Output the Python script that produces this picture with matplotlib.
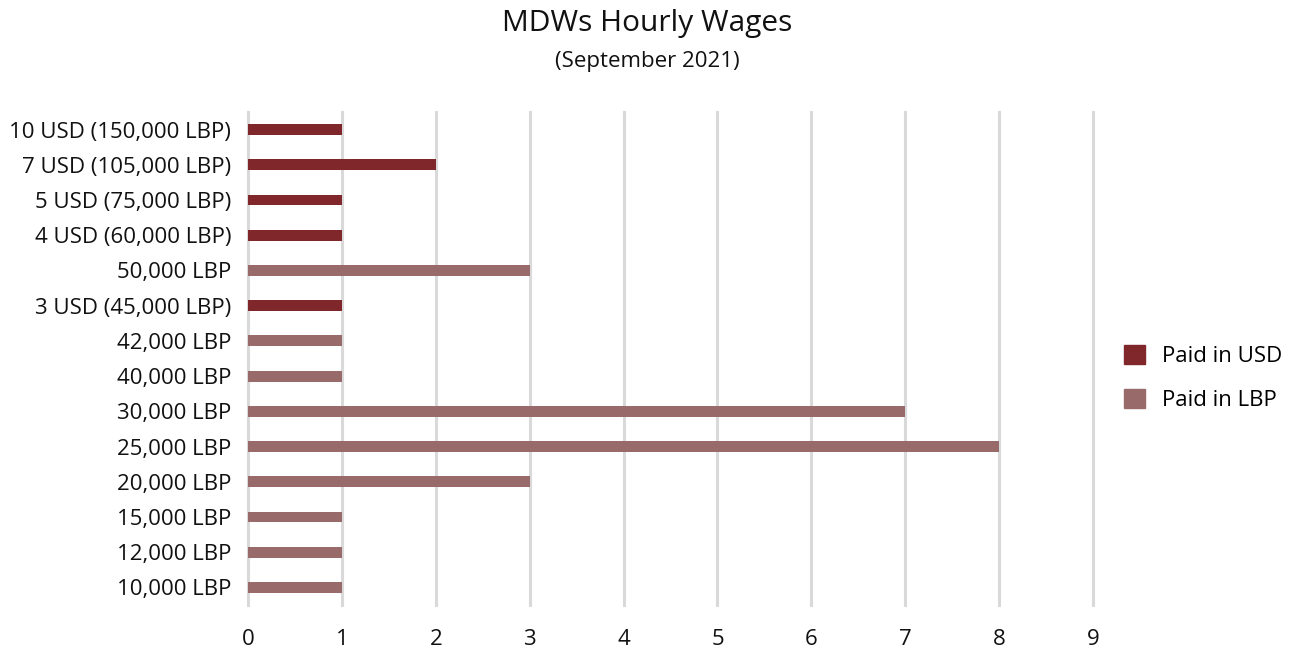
import matplotlib
matplotlib.use("Agg")
import matplotlib.pyplot as plt
from matplotlib.patches import Patch

plt.rcParams['font.family'] = ['Open Sans', 'DejaVu Sans']

categories = ["10 USD (150,000 LBP)", "7 USD (105,000 LBP)", "5 USD (75,000 LBP)",
              "4 USD (60,000 LBP)", "50,000 LBP", "3 USD (45,000 LBP)", "42,000 LBP",
              "40,000 LBP", "30,000 LBP", "25,000 LBP", "20,000 LBP", "15,000 LBP",
              "12,000 LBP", "10,000 LBP"]
values = [1, 2, 1, 1, 3, 1, 1, 1, 7, 8, 3, 1, 1, 1]
currency = ["USD", "USD", "USD", "USD", "LBP", "USD", "LBP", "LBP", "LBP", "LBP",
            "LBP", "LBP", "LBP", "LBP"]
xticks = list(range(0, 10))

colors = {"USD": "#7F272B", "LBP": "#996A6A"}

fig = plt.figure(figsize=(12.95, 6.5), dpi=100)
ax = fig.add_axes([248/1295, 1 - 605/650, (1093-248)/1295, (605-112)/650])

n = len(categories)
ypos = list(range(n))[::-1]
ax.barh(ypos, values, height=0.31, color=[colors[c] for c in currency], zorder=3)
ax.set_ylim(-0.5, n - 0.5)
ax.set_xlim(0, 9)
ax.set_yticks(ypos)
ax.set_yticklabels(categories, fontsize=16, color="#111111")
ax.set_xticks(xticks)
ax.set_xticklabels([str(t) for t in xticks], fontsize=16, color="#111111")
ax.tick_params(axis='both', length=0)
ax.tick_params(axis='x', pad=17)
ax.tick_params(axis='y', pad=12)
for s in ax.spines.values():
    s.set_visible(False)
ax.grid(axis='x', color="#D9D9D9", linewidth=2.2, zorder=0)
for gl in ax.get_xgridlines():
    gl.set_clip_on(False)
ax.set_axisbelow(True)

fig.text(0.5, 1 - 24/650, "MDWs Hourly Wages", ha='center', va='center', fontsize=21.5, color="#111111")
fig.text(0.5, 1 - 61/650, "(September 2021)", ha='center', va='center', fontsize=16, color="#111111")

handles = [Patch(color=colors["USD"], label="Paid in USD"),
           Patch(color=colors["LBP"], label="Paid in LBP")]
leg = fig.legend(handles=handles, loc='center left', bbox_to_anchor=(1106/1295, 1 - 378/650),
                 frameon=False, fontsize=16, handlelength=0.95, handleheight=0.95,
                 labelspacing=1.0, handletextpad=0.75, borderpad=0.3)

fig.savefig("out.png", dpi=100)
